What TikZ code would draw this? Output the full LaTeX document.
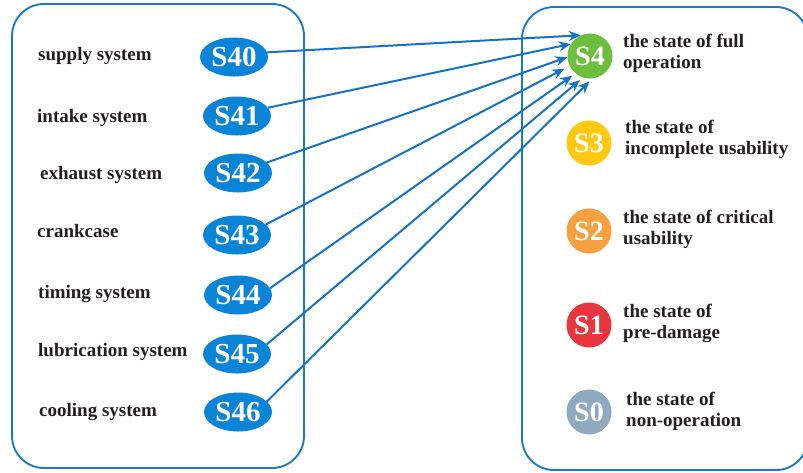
\documentclass[tikz,border=0pt]{standalone}
\usepackage{fontspec}
\setmainfont{Liberation Serif}
\usetikzlibrary{shapes.geometric,arrows.meta}

\definecolor{frameblue}{HTML}{1A7AC8}
\definecolor{linkblue}{HTML}{1673C4}
\definecolor{subblue}{HTML}{0A84D6}
\definecolor{sgreen}{HTML}{6BBF3C}
\definecolor{syellow}{HTML}{FFC912}
\definecolor{sorange}{HTML}{F7A03F}
\definecolor{sred}{HTML}{E8363F}
\definecolor{sgrey}{HTML}{8FAABF}
\definecolor{inktext}{HTML}{231F20}

\tikzset{
  frame/.style={draw=frameblue, line width=1.9pt, rounded corners=32pt},
  subsys/.style={ellipse, fill=subblue, text=white, minimum width=68pt,
    minimum height=39pt, inner sep=0pt, font=\fontsize{29}{29}\selectfont\bfseries},
  state/.style={circle, text=white, minimum size=45pt, inner sep=0pt,
    font=\fontsize{28}{28}\selectfont\bfseries},
  sublabel/.style={anchor=base west, inner sep=0pt, text=inktext,
    font=\fontsize{19}{21}\selectfont\bfseries},
  statelabel/.style={anchor=north west, align=left, inner sep=0pt, text=inktext,
    font=\fontsize{19}{20.5}\selectfont\bfseries},
  link/.style={draw=linkblue, line width=2pt, -{Stealth[length=12pt,width=10pt]}},
}

\begin{document}
\begin{tikzpicture}[x=1pt,y=-1pt]
  %%%%% START %%%%%
  \useasboundingbox (0,0) rectangle (803,472);
  \clip (0,0) rectangle (803,472);

  \draw[frame] (12,4) rectangle (304,468);
  \draw[frame] (522,7) rectangle (808,470);

  % subsystems
  \node[subsys] (S40) at (234,57) {S40};
  \node[subsys] (S41) at (237,116) {S41};
  \node[subsys] (S42) at (238,173) {S42};
  \node[subsys] (S43) at (237,235) {S43};
  \node[subsys] (S44) at (238,295) {S44};
  \node[subsys] (S45) at (237,354) {S45};
  \node[subsys] (S46) at (238,412) {S46};

  \node[sublabel] (supply) at (38,60) {supply system};
  \node[sublabel] (intake) at (37,122) {intake system};
  \node[sublabel] (exhaust) at (40,179) {exhaust system};
  \node[sublabel] (crank) at (37,237) {crankcase};
  \node[sublabel] (timing) at (38,298) {timing system};
  \node[sublabel] (lubri) at (38,356) {lubrication system};
  \node[sublabel] (cooling) at (39,416) {cooling system};

  % states
  \node[state, fill=sgreen] (S4) at (590,56) {S4};
  \node[state, fill=syellow] (S3) at (589,143) {S3};
  \node[state, fill=sorange] (S2) at (589,231) {S2};
  \node[state, fill=sred] (S1) at (589,325) {S1};
  \node[state, fill=sgrey] (S0) at (589,412) {S0};

  \node[statelabel] (full) at (623,34) {the state of full\\operation};
  \node[statelabel] (incompl) at (625,120) {the state of\\incomplete usability};
  \node[statelabel] (crit) at (623,210) {the state of critical\\usability};
  \node[statelabel] (predam) at (623,304) {the state of\\pre-damage};
  \node[statelabel] (nonop) at (626,392) {the state of\\non-operation};

  % links to full operation
  \draw[link] (S40.8) -- (S4.114);
  \draw[link] (S41.15) -- (S4.148);
  \draw[link] (S42.20) -- (S4.183);
  \draw[link, shorten >=6pt] (S43.20) -- (S4.206);
  \draw[link, shorten >=4pt] (S44.12) -- (S4.230);
  \draw[link, shorten >=4pt] (S45.18) -- (S4.252);
  \draw[link, shorten >=4pt] (S46.20) -- (S4.276);
  %%%%% END %%%%%
\end{tikzpicture}
\end{document}
